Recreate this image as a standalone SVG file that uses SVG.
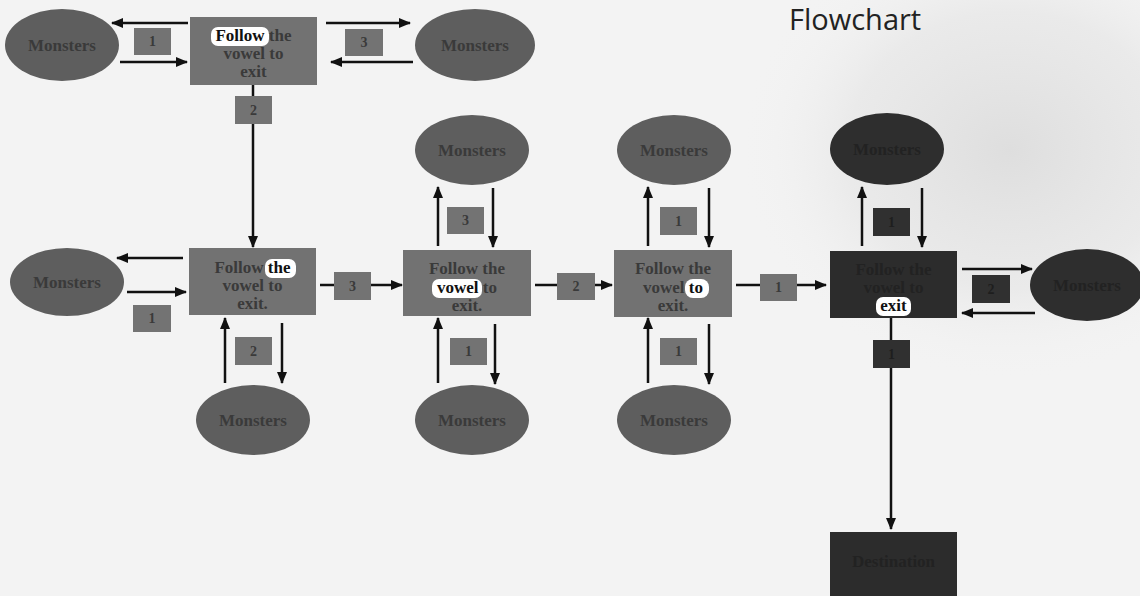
<svg xmlns="http://www.w3.org/2000/svg" width="1140" height="596" viewBox="0 0 1140 596">
<defs>
<marker id="ah" viewBox="0 0 12 10" refX="11" refY="5" markerWidth="12" markerHeight="10" markerUnits="userSpaceOnUse" orient="auto">
<path d="M0,0 L12,5 L0,10 Z" fill="#111"/>
</marker>
<radialGradient id="haze" cx="0.5" cy="0.5" r="0.5">
<stop offset="0" stop-color="#dedede"/>
<stop offset="0.6" stop-color="#e6e6e6" stop-opacity="0.7"/>
<stop offset="1" stop-color="#f3f3f3" stop-opacity="0"/>
</radialGradient>
<style>
.bg{fill:#f3f3f3}
.box{fill:#727272}
.boxd{fill:#2c2c2c}
.ell{fill:#5e5e5e}
.elld{fill:#2e2e2e}
.lab{fill:#737373}
.labd{fill:#303030}
.t{font-family:"Liberation Serif",serif;font-weight:bold;font-size:17px;fill:#3a3a3a;text-anchor:middle}
.td{font-family:"Liberation Serif",serif;font-weight:bold;font-size:17px;fill:#222;text-anchor:middle}
.n{font-family:"Liberation Serif",serif;font-weight:bold;font-size:14px;fill:#3a3a3a;text-anchor:middle}
.nd{font-family:"Liberation Serif",serif;font-weight:bold;font-size:14px;fill:#1e1e1e;text-anchor:middle}
.hl{fill:#fff}
.h{fill:#111}
.c{stroke:#111;stroke-width:2.5;fill:none;marker-end:url(#ah)}
.title{font-family:"Open Sans","Noto Sans",sans-serif;font-size:29px;fill:#222}
</style>
</defs>
<rect class="bg" x="0" y="0" width="1140" height="596"/>
<ellipse cx="1010" cy="150" rx="270" ry="230" fill="url(#haze)"/>
<text class="title" x="789" y="30">Flowchart</text>

<g id="connectors">
<line class="c" x1="188" y1="23" x2="112" y2="23"/>
<line class="c" x1="120" y1="62" x2="187" y2="62"/>
<line class="c" x1="326" y1="23" x2="410" y2="23"/>
<line class="c" x1="413" y1="62" x2="331" y2="62"/>
<line class="c" x1="253" y1="85" x2="253" y2="247"/>
<line class="c" x1="183" y1="258" x2="117" y2="258"/>
<line class="c" x1="127" y1="292" x2="186" y2="292"/>
<line class="c" x1="225" y1="383" x2="225" y2="318"/>
<line class="c" x1="282" y1="323" x2="282" y2="383"/>
<line class="c" x1="320" y1="285" x2="402" y2="285"/>
<line class="c" x1="438" y1="246" x2="438" y2="187"/>
<line class="c" x1="493" y1="188" x2="493" y2="247"/>
<line class="c" x1="438" y1="383" x2="438" y2="318"/>
<line class="c" x1="495" y1="324" x2="495" y2="384"/>
<line class="c" x1="535" y1="285" x2="612" y2="285"/>
<line class="c" x1="648" y1="246" x2="648" y2="187"/>
<line class="c" x1="709" y1="188" x2="709" y2="247"/>
<line class="c" x1="648" y1="383" x2="648" y2="318"/>
<line class="c" x1="709" y1="324" x2="709" y2="384"/>
<line class="c" x1="736" y1="285" x2="826" y2="285"/>
<line class="c" x1="862" y1="246" x2="862" y2="187"/>
<line class="c" x1="922" y1="188" x2="922" y2="247"/>
<line class="c" x1="962" y1="269" x2="1032" y2="269"/>
<line class="c" x1="1035" y1="313" x2="962" y2="313"/>
<line class="c" x1="891" y1="318" x2="891" y2="529"/>

<rect class="lab" x="134" y="28" width="37" height="27"/><text class="n" x="152.5" y="46">1</text>
<rect class="lab" x="345" y="29" width="38" height="27"/><text class="n" x="364" y="47">3</text>
<rect class="lab" x="235" y="96" width="37" height="28"/><text class="n" x="253.5" y="115">2</text>
<rect class="lab" x="133" y="305" width="38" height="27"/><text class="n" x="152" y="323">1</text>
<rect class="lab" x="235" y="337" width="37" height="28"/><text class="n" x="253.5" y="356">2</text>
<rect class="lab" x="334" y="272" width="37" height="28"/><text class="n" x="352.5" y="291">3</text>
<rect class="lab" x="447" y="207" width="37" height="27"/><text class="n" x="465.5" y="225">3</text>
<rect class="lab" x="450" y="338" width="37" height="27"/><text class="n" x="468.5" y="356">1</text>
<rect class="lab" x="557" y="273" width="38" height="27"/><text class="n" x="576" y="291">2</text>
<rect class="lab" x="660" y="207" width="37" height="28"/><text class="n" x="678.5" y="226">1</text>
<rect class="lab" x="660" y="338" width="37" height="27"/><text class="n" x="678.5" y="356">1</text>
<rect class="lab" x="760" y="274" width="37" height="27"/><text class="n" x="778.5" y="292">1</text>
<rect class="labd" x="873" y="208" width="37" height="28"/><text class="nd" x="891.5" y="227">1</text>
<rect class="labd" x="972" y="275" width="38" height="28"/><text class="nd" x="991" y="294">2</text>
<rect class="labd" x="873" y="340" width="37" height="28"/><text class="nd" x="891.5" y="359">1</text>
</g>

<g id="box0">
<rect class="box" x="190" y="17" width="127" height="68"/>
<rect class="hl" x="211" y="27" width="58" height="19" rx="7"/>
<text class="t" x="253.5" y="41"><tspan class="h">Follow</tspan> the</text>
<text class="t" x="253.5" y="59">vowel to</text>
<text class="t" x="253.5" y="77">exit</text>
</g>
<g id="m0l"><ellipse class="ell" cx="62" cy="45" rx="57" ry="36"/><text class="t" x="62" y="51">Monsters</text></g>
<g id="m0r"><ellipse class="ell" cx="475" cy="45" rx="60" ry="36"/><text class="t" x="475" y="51">Monsters</text></g>

<g id="box1">
<rect class="box" x="189" y="248" width="127" height="67"/>
<rect class="hl" x="265" y="259" width="31" height="19" rx="7"/>
<text class="t" x="252.5" y="273">Follow <tspan class="h">the</tspan></text>
<text class="t" x="252.5" y="291">vowel to</text>
<text class="t" x="252.5" y="309">exit.</text>
</g>
<g id="m1l"><ellipse class="ell" cx="67" cy="282" rx="57" ry="34"/><text class="t" x="67" y="288">Monsters</text></g>
<g id="m1b"><ellipse class="ell" cx="253" cy="420" rx="57" ry="35"/><text class="t" x="253" y="426">Monsters</text></g>

<g id="box2">
<rect class="box" x="403" y="250" width="128" height="66"/>
<rect class="hl" x="432" y="279" width="50" height="19" rx="7"/>
<text class="t" x="467" y="274">Follow the</text>
<text class="t" x="467" y="293"><tspan class="h">vowel</tspan> to</text>
<text class="t" x="467" y="311">exit.</text>
</g>
<g id="m2t"><ellipse class="ell" cx="472" cy="150" rx="57" ry="35"/><text class="t" x="472" y="156">Monsters</text></g>
<g id="m2b"><ellipse class="ell" cx="472" cy="420" rx="57" ry="35"/><text class="t" x="472" y="426">Monsters</text></g>

<g id="box3">
<rect class="box" x="614" y="250" width="118" height="67"/>
<rect class="hl" x="685" y="279" width="24" height="19" rx="8"/>
<text class="t" x="673" y="274">Follow the</text>
<text class="t" x="673" y="293">vowel <tspan class="h">to</tspan></text>
<text class="t" x="673" y="311">exit.</text>
</g>
<g id="m3t"><ellipse class="ell" cx="674" cy="150" rx="57" ry="35"/><text class="t" x="674" y="156">Monsters</text></g>
<g id="m3b"><ellipse class="ell" cx="674" cy="420" rx="57" ry="35"/><text class="t" x="674" y="426">Monsters</text></g>

<g id="box4">
<rect class="boxd" x="830" y="251" width="127" height="67"/>
<rect class="hl" x="876" y="297" width="35" height="19" rx="7"/>
<text class="td" x="893.5" y="275">Follow the</text>
<text class="td" x="893.5" y="293">vowel to</text>
<text class="t" x="893.5" y="311"><tspan class="h">exit</tspan></text>
</g>
<g id="m4t"><ellipse class="elld" cx="887" cy="149" rx="57" ry="36"/><text class="td" x="887" y="155">Monsters</text></g>
<g id="m4r"><ellipse class="elld" cx="1087" cy="285" rx="57" ry="36"/><text class="td" x="1087" y="291">Monsters</text></g>

<g id="destination">
<rect class="boxd" x="830" y="532" width="127" height="70"/>
<text class="td" x="893.5" y="567">Destination</text>
</g>
</svg>
